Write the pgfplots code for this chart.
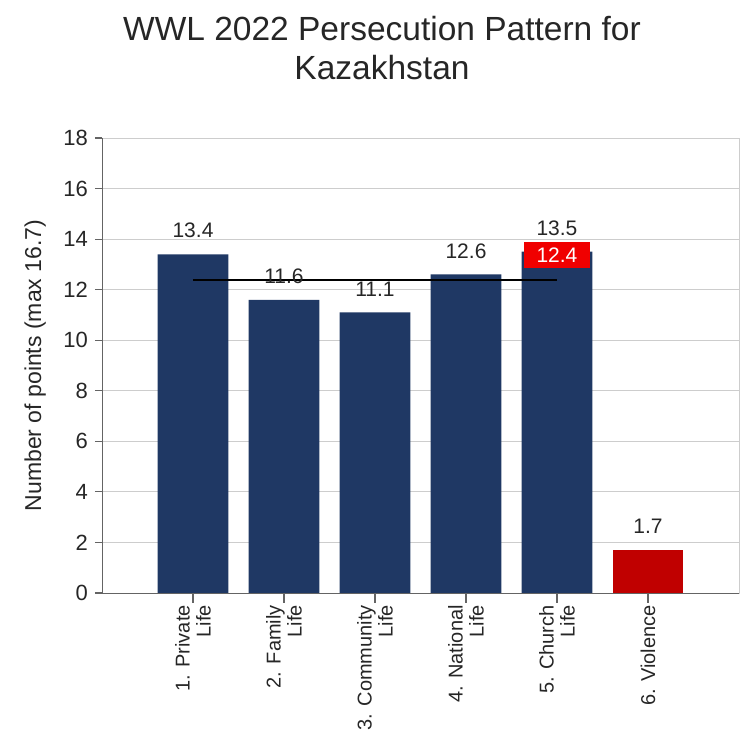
\documentclass[border=0pt]{standalone}
\usepackage{fontspec}
\setmainfont{Liberation Sans}
\usepackage{pgfplots}
\pgfplotsset{compat=1.18}
\definecolor{barnavy}{RGB}{31,56,100}
\definecolor{barred}{RGB}{192,0,0}
\definecolor{boxred}{RGB}{240,0,0}
\definecolor{gridgray}{RGB}{205,205,205}
\definecolor{axisgray}{RGB}{100,100,100}

\begin{document}
\begin{tikzpicture}
\begin{axis}[
  at={(0pt,0pt)}, anchor=south west,
  width=637pt, height=455pt, scale only axis,
  clip=false,
  xmin=0, xmax=7, ymin=0, ymax=18,
  xtick={1,...,6},
  xticklabels={{1. Private\\Life},{2. Family\\Life},{3. Community\\Life},{4. National\\Life},{5. Church\\Life},{6. Violence}},
  ytick={0,2,...,18},
  xtick pos=bottom, ytick pos=left,
  ymajorgrids, grid style={gridgray, line width=0.8pt},
  axis line style={gridgray, line width=0.8pt},
  tick align=outside,
  major tick length=7pt,
  tick style={axisgray, line width=1.2pt},
  x tick label style={rotate=90, anchor=east, align=right, font=\fontsize{20}{21}\selectfont, text=black!85, inner sep=0pt, xshift=-5pt},
  y tick label style={font=\fontsize{22}{24}\selectfont, text=black!85, inner sep=0pt, xshift=-7pt},
  /pgf/number format/assume math mode=true,
  ylabel={Number of points (max 16.7)},
  ylabel style={at={(axis description cs:-0.105,0.5)}, anchor=center, font=\fontsize{23}{25}\selectfont, text=black!85},
]
\addplot[ybar, bar shift=0pt, bar width=0.78, fill=barnavy, draw=none,
  nodes near coords,
  nodes near coords style={font=\fontsize{21}{23}\selectfont, text=black!85, anchor=south, inner sep=0pt, yshift=16pt}]
  coordinates {(1,13.4) (2,11.6) (3,11.1) (4,12.6) (5,13.5)};
\addplot[ybar, bar shift=0pt, bar width=0.78, fill=barred, draw=none,
  nodes near coords,
  nodes near coords style={font=\fontsize{21}{23}\selectfont, text=black!85, anchor=south, inner sep=0pt, yshift=16pt}]
  coordinates {(6,1.7)};
% average
\addplot[black, line width=2pt, mark=none] coordinates {(1,12.4) (5,12.4)};
\node[fill=boxred, text=white, minimum width=66pt, minimum height=26pt, inner sep=0pt,
  font=\fontsize{21}{23}\selectfont] at (axis cs:5,13.38) {12.4};
\draw[axisgray, line width=0.8pt] (rel axis cs:0,1) -- (rel axis cs:0,0) -- (rel axis cs:1,0);
\pgfplotsinvokeforeach{1,...,6}{\draw[axisgray, line width=1.2pt] (axis cs:#1,0) -- ++(0pt,-10pt);}
\end{axis}
\node[anchor=base, font=\fontsize{33.5}{36}\selectfont, text=black!85] at (280pt,552pt) {WWL 2022 Persecution Pattern for};
\node[anchor=base, font=\fontsize{33.5}{36}\selectfont, text=black!85] at (280pt,513pt) {Kazakhstan};
\pgfresetboundingbox
\useasboundingbox (-102pt,-149pt) rectangle (639pt,593pt);
\end{tikzpicture}
\end{document}
